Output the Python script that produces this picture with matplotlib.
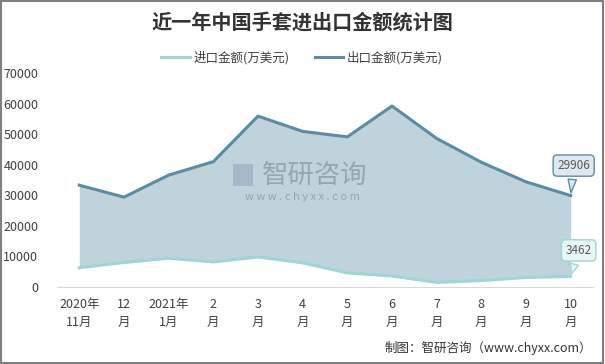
import matplotlib.pyplot as plt
from matplotlib.patches import Rectangle
import numpy as np

plt.rcParams['font.family'] = ['Noto Sans CJK SC', 'DejaVu Sans']

months = ["2020年\n11月", "12\n月", "2021年\n1月", "2\n月", "3\n月", "4\n月",
          "5\n月", "6\n月", "7\n月", "8\n月", "9\n月", "10\n月"]
imports = [6300, 8000, 9400, 8200, 9800, 7900, 4600, 3600, 1500, 2100, 3100, 3462]
exports = [33300, 29400, 36600, 41000, 55900, 50900, 49100, 59200, 48600, 40800, 34400, 29906]

c_imp = "#9fd5d3"
c_exp = "#5b8ca2"
c_fill = "#bfd3dc"

W, H = 605, 364
fig = plt.figure(figsize=(W / 100, H / 100), dpi=100)
ax = fig.add_axes([57 / W, 1 - 287 / H, (593 - 57) / W, (287 - 73) / H])

x = np.arange(len(months))
ax.fill_between(x, imports, exports, color=c_fill, lw=0)
ax.plot(x, imports, color=c_imp, lw=2.2, label="进口金额(万美元)")
ax.plot(x, exports, color=c_exp, lw=2.2, label="出口金额(万美元)")

ax.set_xlim(-0.5, len(months) - 0.5)
ax.set_ylim(0, 70000)
ax.set_yticks(range(0, 70001, 10000))
ax.set_yticklabels([str(v) for v in range(0, 70001, 10000)], fontsize=9, color="#404040")
ax.set_xticks(x)
ax.set_xticklabels(months, fontsize=9, color="#404040", linespacing=1.5)
ax.tick_params(axis="y", length=0, pad=13.5)
ax.tick_params(axis="x", length=0, pad=8)
for s in ["top", "right", "left"]:
    ax.spines[s].set_visible(False)
ax.spines["bottom"].set_color("#d9d9d9")

# callouts on last points
ax.annotate(str(exports[-1]), xy=(x[-1], exports[-1]), xytext=(3, 30), textcoords="offset pixels",
            ha="center", va="center", fontsize=8.5, color="#595959",
            bbox=dict(boxstyle="round,pad=0.35", fc="#dfe8ee", ec=c_exp, lw=1),
            arrowprops=dict(arrowstyle="wedge,tail_width=0.7", fc="#dfe8ee", ec=c_exp, lw=1))
ax.annotate(str(imports[-1]), xy=(x[-1], imports[-1]), xytext=(8, 26), textcoords="offset pixels",
            ha="center", va="center", fontsize=8.5, color="#595959",
            bbox=dict(boxstyle="round,pad=0.35", fc="#e8f6f6", ec=c_imp, lw=1),
            arrowprops=dict(arrowstyle="wedge,tail_width=0.7", fc="#e8f6f6", ec=c_imp, lw=1))

fig.text(302 / W, 1 - 22 / H, "近一年中国手套进出口金额统计图", ha="center", va="center",
         fontsize=14.5, fontweight="bold", color="#333333")
fig.legend(loc="center", bbox_to_anchor=(302 / W, 1 - 58 / H), ncol=2, frameon=False,
           fontsize=9, handlelength=2.3, columnspacing=2, handletextpad=0.3,
           labelcolor="#404040")

# watermark
fig.text(315 / W, 1 - 175 / H, "智研咨询", ha="center", va="center", fontsize=19,
         color="#8d9aa3", alpha=0.8)
fig.text(302 / W, 1 - 197 / H, "w w w . c h y x x . c o m", ha="center", va="center",
         fontsize=8, color="#8d9aa3", alpha=0.8)
fig.patches.append(Rectangle((233 / W, 1 - 186 / H), 20 / W, 22 / H, transform=fig.transFigure,
                             fc="#9fb1c4", ec="none", alpha=0.8))

fig.text(592 / W, 1 - 348 / H, "制图：智研咨询（www.chyxx.com）", ha="right", va="center",
         fontsize=9, color="#333333")

fig.patches.append(Rectangle((0.001, 0.002), 0.996, 0.996, transform=fig.transFigure,
                             fill=False, ec="#7f7f7f", lw=1.5))

fig.savefig("out.png", dpi=100)
